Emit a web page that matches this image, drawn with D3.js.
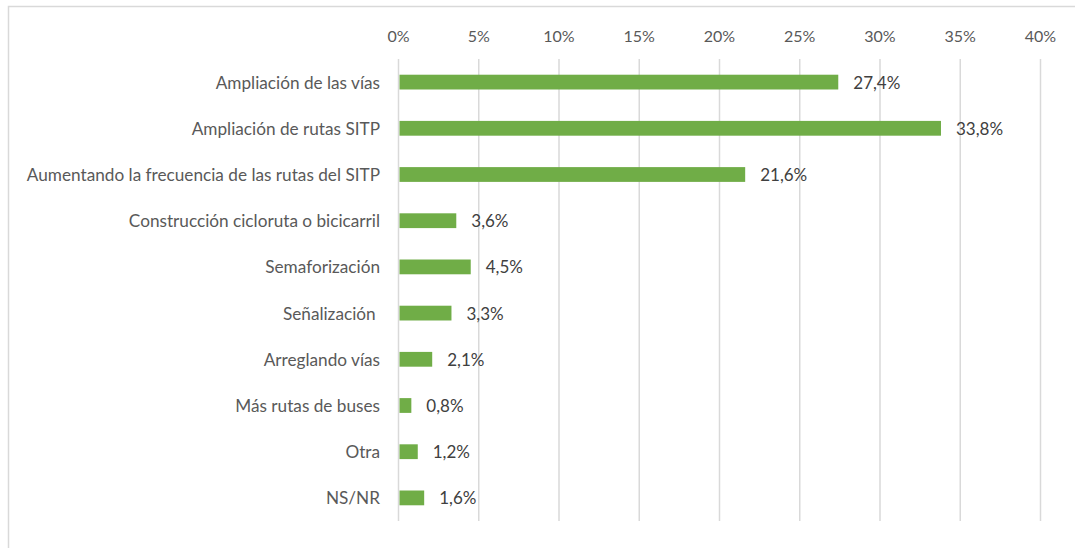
<!DOCTYPE html>
<html><head><meta charset="utf-8">
<script src="https://cdn.jsdelivr.net/npm/d3@7"></script>
<style>
body{margin:0;background:#fff;}
svg text{font-family:"Lato","Open Sans",sans-serif;white-space:pre;}
</style></head>
<body>
<svg id="c" width="1075" height="548"></svg>
<script>
const categories = ["Ampliación de las vías","Ampliación de rutas SITP","Aumentando la frecuencia de las rutas del SITP","Construcción cicloruta o bicicarril","Semaforización","Señalización ","Arreglando vías","Más rutas de buses","Otra","NS/NR"];
const values = [27.4,33.8,21.6,3.6,4.5,3.3,2.1,0.8,1.2,1.6];
const valueLabels = ["27,4%","33,8%","21,6%","3,6%","4,5%","3,3%","2,1%","0,8%","1,2%","1,6%"];
const ticks = [0,5,10,15,20,25,30,35,40];
const tickLabels = ["0%","5%","10%","15%","20%","25%","30%","35%","40%"];

const svg = d3.select("#c");
svg.append("rect").attr("x",8.5).attr("y",6.5).attr("width",1080).attr("height",560)
  .attr("fill","#fff").attr("stroke","#d9d9d9").attr("stroke-width",1.5);

const x = d3.scaleLinear().domain([0,40]).range([398.5,1040.5]);
const y = d3.scaleBand().domain(categories).range([59,521]).paddingInner(0.68).paddingOuter(0.34);

svg.append("g").selectAll("line").data(ticks).join("line")
  .attr("x1",d=>x(d)).attr("x2",d=>x(d)).attr("y1",59).attr("y2",521)
  .attr("stroke","#d9d9d9").attr("stroke-width",1.5);

svg.append("g").selectAll("text").data(ticks).join("text")
  .attr("x",d=>x(d)).attr("y",35).attr("text-anchor","middle").attr("dominant-baseline","central")
  .attr("font-size",16).attr("fill","#595959").text((d,i)=>tickLabels[i]);

svg.append("g").selectAll("rect").data(values).join("rect")
  .attr("x",x(0)+1).attr("y",(d,i)=>y(categories[i]))
  .attr("width",d=>x(d)-x(0)-1).attr("height",y.bandwidth()).attr("fill","#70ad47");

svg.append("g").selectAll("text").data(categories).join("text")
  .attr("x",380).attr("y",d=>y(d)+y.bandwidth()/2).attr("text-anchor","end").attr("dominant-baseline","central")
  .attr("font-size",17.2).attr("fill","#595959").text(d=>d);

svg.append("g").selectAll("text").data(values).join("text")
  .attr("x",d=>x(d)+15).attr("y",(d,i)=>y(categories[i])+y.bandwidth()/2).attr("dominant-baseline","central")
  .attr("font-size",17).attr("fill","#404040").text((d,i)=>valueLabels[i]);
</script>
</body></html>
